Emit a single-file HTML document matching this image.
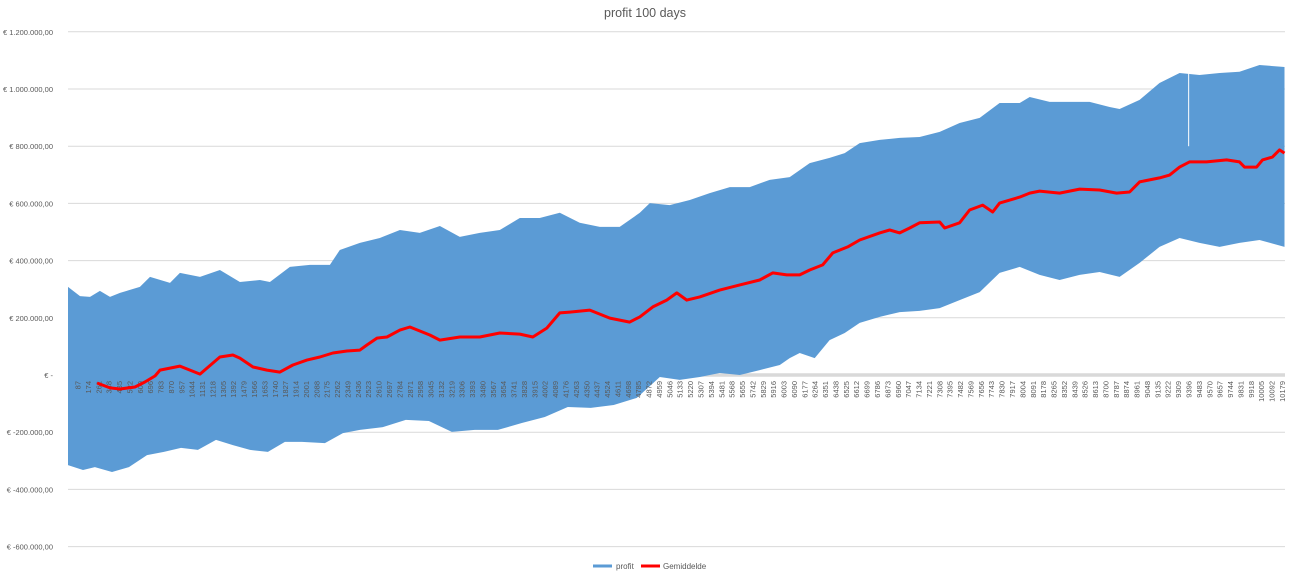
<!DOCTYPE html>
<html><head><meta charset="utf-8"><style>
html,body{margin:0;padding:0;background:#fff;}
svg{display:block;font-family:"Liberation Sans",sans-serif;}
</style></head><body>
<svg id="chart" width="1292" height="574" viewBox="0 0 1292 574" xmlns="http://www.w3.org/2000/svg">
<text x="645" y="17" text-anchor="middle" font-size="12.5" fill="#595959">profit  100 days</text>
<g id="grid"></g><g id="band"></g><g id="xlabels"></g><g id="avg"></g><g id="ylabels"></g>
<g>
<g><line x1="593" y1="566" x2="612" y2="566" stroke="#5B9BD5" stroke-width="3"/><text x="616" y="569" font-size="8" fill="#595959">profit</text></g>
<g><line x1="641" y1="566" x2="660" y2="566" stroke="#FF0000" stroke-width="3"/><text x="663" y="569" font-size="8" fill="#595959">Gemiddelde</text></g>
</g>
</svg>
<script>
const yTicks=[1200,1000,800,600,400,200,0,-200,-400,-600];
const yTickLabels=["€ 1.200.000,00","€ 1.000.000,00","€ 800.000,00","€ 600.000,00","€ 400.000,00","€ 200.000,00","€ -","€ -200.000,00","€ -400.000,00","€ -600.000,00"];
const upperDays=[3,104,188,271,355,439,606,690,858,941,1109,1276,1444,1611,1695,1863,2030,2198,2281,2449,2616,2784,2951,3119,3286,3454,3621,3789,3956,4124,4291,4459,4626,4794,4878,5045,5213,5380,5548,5715,5883,6050,6218,6385,6511,6637,6804,6972,7139,7307,7474,7642,7809,7977,8061,8228,8396,8563,8731,8814,8982,9149,9317,9484,9652,9819,9987,10196];
const upperVals=[308,276,273,294,273,287,308,343,322,357,343,367,325,332,325,378,385,385,437,462,479,507,497,521,483,497,507,549,549,567,532,518,518,567,601,594,612,636,657,657,682,692,741,759,776,811,822,829,832,850,881,899,951,951,972,955,955,955,937,930,962,1021,1056,1049,1056,1060,1084,1077];
const lowerDays=[3,129,229,372,514,665,807,950,1092,1243,1385,1528,1678,1821,1963,2156,2307,2449,2641,2834,3027,3219,3412,3605,3806,3998,4191,4384,4576,4769,4861,4962,5129,5297,5464,5632,5799,5967,6050,6134,6260,6385,6511,6637,6804,6972,7139,7307,7474,7642,7809,7977,8144,8312,8479,8647,8814,8982,9149,9317,9484,9652,9819,9987,10196];
const lowerVals=[-315,-332,-322,-339,-322,-280,-269,-255,-262,-227,-245,-262,-269,-234,-234,-238,-203,-192,-182,-157,-161,-199,-192,-192,-168,-147,-112,-115,-105,-80,-45,-7,-17,-7,7,0,17,35,59,77,59,122,147,182,203,220,224,234,262,290,357,378,350,332,350,360,343,392,448,479,462,448,462,472,448];
const avgDays=[247,355,439,565,649,733,774,941,1109,1276,1385,1444,1553,1670,1779,1888,2005,2114,2223,2340,2449,2508,2592,2676,2784,2868,3035,3119,3286,3454,3621,3789,3898,4015,4124,4208,4375,4543,4710,4794,4903,5020,5104,5188,5297,5464,5632,5799,5908,6025,6134,6218,6327,6411,6536,6637,6804,6888,6972,7056,7139,7307,7349,7474,7558,7667,7751,7809,7977,8061,8144,8312,8479,8647,8789,8898,8982,9149,9233,9317,9400,9543,9711,9819,9861,9962,10012,10095,10154,10196];
const avgVals=[-28,-45,-49,-42,-24,-3,17,31,3,63,70,59,28,17,10,35,52,63,77,84,87,105,129,133,157,168,140,122,133,133,147,143,133,164,217,220,227,199,185,203,238,262,287,262,273,297,315,332,357,350,350,367,385,427,448,472,497,507,497,514,532,535,514,532,577,594,570,601,622,636,643,636,650,647,636,640,675,689,699,727,745,745,752,745,727,727,752,762,787,776];
const gapDay=9393, gapTop=1060, gapBottom=800;
const labelStep=87, labelCount=117;

const NS="http://www.w3.org/2000/svg";
const X0=67.6, XS=0.11935, Y0=375, YS=57.2/200;
const xS=d=>X0+d*XS, yS=v=>Y0-v*YS;
function mk(tag,attrs,parent){const e=document.createElementNS(NS,tag);for(const k in attrs)e.setAttribute(k,attrs[k]);parent.appendChild(e);return e;}
const grid=document.getElementById('grid'),yl=document.getElementById('ylabels');
yTicks.forEach((t,i)=>{
  const l=mk('line',{x1:68,x2:1285,y1:yS(t),y2:yS(t),stroke:'#d9d9d9','stroke-width':t===0?3.5:1},grid);
  
  
  const tx=mk('text',{x:53,y:yS(t)+3,'text-anchor':'end','font-size':'7.5',fill:'#595959'},yl);
  tx.textContent=yTickLabels[i];
  
  
});
let d='';
upperDays.forEach((x,i)=>{d+=(i?'L':'M')+xS(x).toFixed(1)+' '+yS(upperVals[i]).toFixed(1);});
for(let i=lowerDays.length-1;i>=0;i--)d+='L'+xS(lowerDays[i]).toFixed(1)+' '+yS(lowerVals[i]).toFixed(1);
const band=mk('path',{d:d+'Z',fill:'#5B9BD5'},document.getElementById('band'));


const gap=mk('line',{x1:xS(gapDay),x2:xS(gapDay),y1:yS(gapTop),y2:yS(gapBottom),stroke:'#fff','stroke-width':1},document.getElementById('band'));


const xl=document.getElementById('xlabels');
for(let k=1;k<=labelCount;k++){
  const day=k*labelStep,x=xS(day)+2.5,y=381;
  const t=mk('text',{x:x,y:y,transform:`rotate(-90 ${x} ${y})`,'text-anchor':'end','font-size':'7.5',fill:'#595959'},xl);
  t.textContent=String(day);
  
  
}
let p='';
avgDays.forEach((x,i)=>{p+=(i?'L':'M')+xS(x).toFixed(1)+' '+yS(avgVals[i]).toFixed(1);});
const avg=mk('path',{d:p,fill:'none',stroke:'#FF0000','stroke-width':3,'stroke-linejoin':'round'},document.getElementById('avg'));


</script>
</body></html>
